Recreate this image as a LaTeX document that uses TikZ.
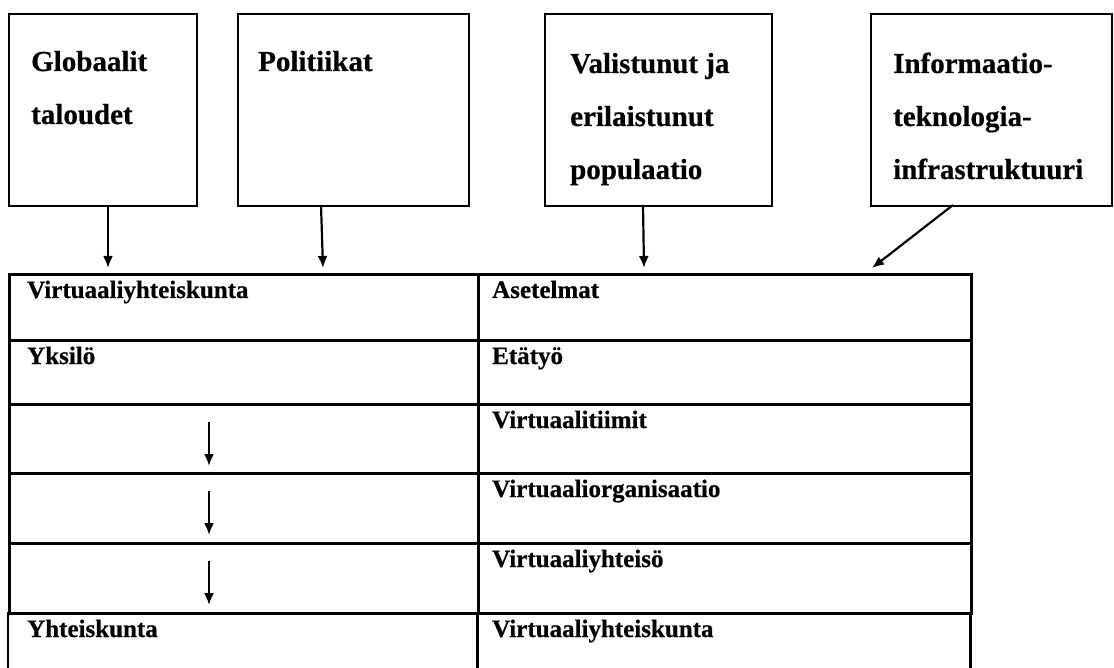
\documentclass[tikz,border=0pt]{standalone}
\usepackage{fontspec}
\setmainfont{Liberation Serif}[BoldFeatures={FakeBold=0.6}]
\usetikzlibrary{arrows.meta,calc}

\begin{document}
\begin{tikzpicture}[x=1pt,y=-1pt,
  topbox/.style={draw, line width=2.4pt, anchor=north west, inner sep=0pt, minimum height=192pt},
  toptext/.style={anchor=base west, inner sep=0pt, font=\bfseries\fontsize{29}{53}\selectfont},
  cell/.style={draw, line width=2.8pt, anchor=north west, inner sep=0pt},
  opencell/.style={anchor=north west, inner sep=0pt},
  celltext/.style={anchor=base west, inner sep=0pt, font=\bfseries\fontsize{25}{28}\selectfont},
  arr/.style={line width=2.2pt, -{Latex[length=12pt,width=10pt]}},
  tline/.style={line width=2.8pt}
]
\useasboundingbox (0,0) rectangle (1114,668);

% top boxes
\node[topbox, minimum width=188pt] (g) at (8,13) {};
\node[topbox, minimum width=231pt] (p) at (237,13) {};
\node[topbox, minimum width=227pt] (v) at (544,13) {};
\node[topbox, minimum width=241pt] (inf) at (870,13) {};

\node[toptext] (gt) at ($(g.north west)+(23,58)$) {\parbox[t]{160pt}{Globaalit\\taloudet}};
\node[toptext] (pt) at ($(p.north west)+(21,58)$) {\parbox[t]{200pt}{Politiikat}};
\node[toptext] (vt) at ($(v.north west)+(26,60)$) {\parbox[t]{200pt}{Valistunut ja\\erilaistunut\\populaatio}};
\node[toptext] (it) at ($(inf.north west)+(23,60)$) {\parbox[t]{220pt}{Informaatio-\\teknologia-\\infrastruktuuri}};

% table cells
\node[cell, minimum width=469pt, minimum height=66pt] (l1) at (8,273) {};
\node[cell, minimum width=493pt, minimum height=66pt] (r1) at (477,273) {};
\node[cell, minimum width=469pt, minimum height=64pt] (l2) at (8,339) {};
\node[cell, minimum width=493pt, minimum height=64pt] (r2) at (477,339) {};
\node[cell, minimum width=469pt, minimum height=69pt] (l3) at (8,403) {};
\node[cell, minimum width=493pt, minimum height=69pt] (r3) at (477,403) {};
\node[cell, minimum width=469pt, minimum height=70pt] (l4) at (8,472) {};
\node[cell, minimum width=493pt, minimum height=70pt] (r4) at (477,472) {};
\node[cell, minimum width=469pt, minimum height=70pt] (l5) at (8,542) {};
\node[cell, minimum width=493pt, minimum height=70pt] (r5) at (477,542) {};
\node[opencell, minimum width=469pt, minimum height=56pt] (l6) at (8,612) {};
\node[opencell, minimum width=493pt, minimum height=56pt] (r6) at (477,612) {};
\draw[tline] (l6.north west) -- (l6.south west);
\draw[tline] (l6.north east) -- (l6.south east);
\draw[tline] (r6.north east) -- (r6.south east);

% cell texts
\node[celltext] (l1t) at ($(l1.north west)+(19,25)$) {Virtuaaliyhteiskunta};
\node[celltext] (r1t) at ($(r1.north west)+(15,25)$) {Asetelmat};
\node[celltext] (l2t) at ($(l2.north west)+(19,25)$) {Yksilö};
\node[celltext] (r2t) at ($(r2.north west)+(15,25)$) {Etätyö};
\node[celltext] (r3t) at ($(r3.north west)+(15,25)$) {Virtuaalitiimit};
\node[celltext] (r4t) at ($(r4.north west)+(15,25)$) {Virtuaaliorganisaatio};
\node[celltext] (r5t) at ($(r5.north west)+(15,25)$) {Virtuaaliyhteisö};
\node[celltext] (l6t) at ($(l6.north west)+(19,25)$) {Yhteiskunta};
\node[celltext] (r6t) at ($(r6.north west)+(15,25)$) {Virtuaaliyhteiskunta};

% arrows from top boxes
\coordinate (gA) at (108,205);  \coordinate (gB) at (108,268);
\coordinate (pA) at (321,205);  \coordinate (pB) at (323,268);
\coordinate (vA) at (643,205);  \coordinate (vB) at (644,268);
\coordinate (iA) at (953,205);  \coordinate (iB) at (872,268);
\draw[arr] (gA) -- (gB);
\draw[arr] (pA) -- (pB);
\draw[arr] (vA) -- (vB);
\draw[arr] (iA) -- (iB);

% arrows inside the left column
\coordinate (a3s) at (209,422); \coordinate (a3e) at (209,466);
\coordinate (a4s) at (209,491); \coordinate (a4e) at (209,535);
\coordinate (a5s) at (209,561); \coordinate (a5e) at (209,605);
\draw[arr] (a3s) -- (a3e);
\draw[arr] (a4s) -- (a4e);
\draw[arr] (a5s) -- (a5e);
\end{tikzpicture}
\end{document}
